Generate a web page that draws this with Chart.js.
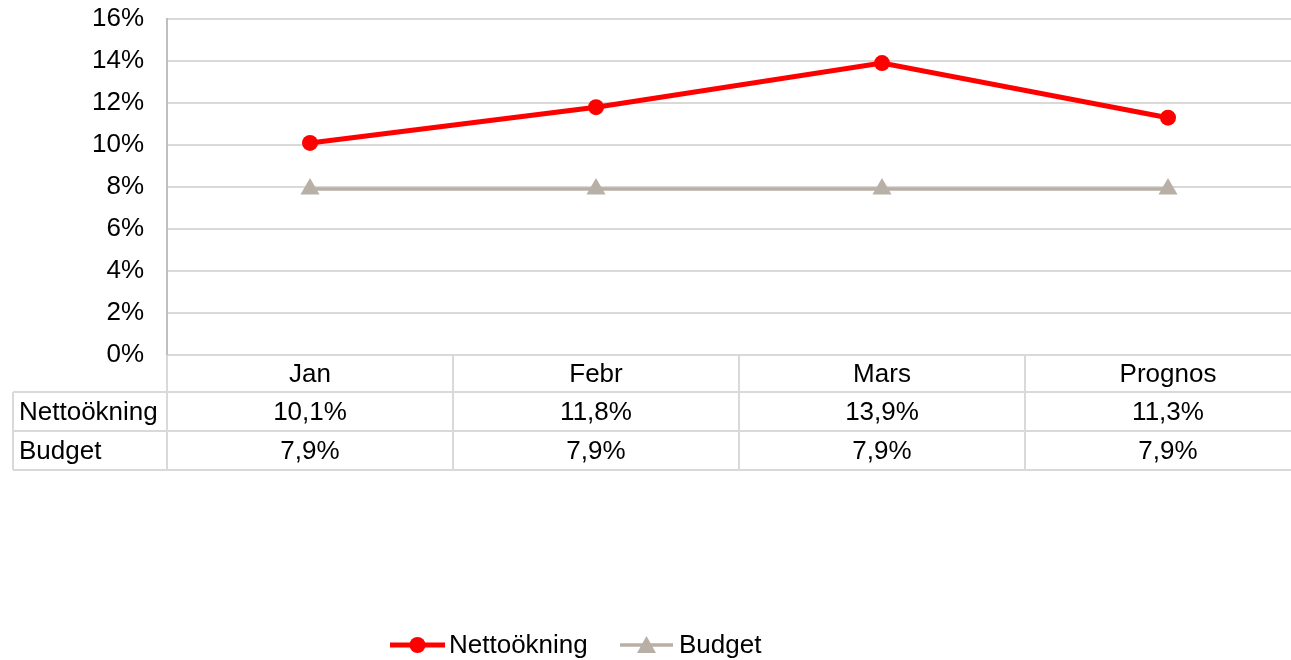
<!DOCTYPE html>
<html>
<head>
<meta charset="utf-8">
<script src="https://cdn.jsdelivr.net/npm/chart.js@4"></script>
<style>
  html, body { margin: 0; padding: 0; background: #fff; overflow: hidden; }
  #chart { display: block; }
</style>
</head>
<body>
<canvas id="chart" width="1320" height="660"></canvas>
<script>
// Data
const categories = ['Jan', 'Febr', 'Mars', 'Prognos'];
const nettoValues = [10.1, 11.8, 13.9, 11.3];
const budgetValues = [7.9, 7.9, 7.9, 7.9];
const seriesNames = ['Nettoökning', 'Budget'];
const yTicks = [0, 2, 4, 6, 8, 10, 12, 14, 16];

const FONT = '"Liberation Sans", Arial, sans-serif';
const RED = '#ff0000';
const GREY = '#b8afa6';
const GRID = '#d9d9d9';

function fmt(v) {
    return v.toFixed(1).replace('.', ',') + '%';
}

// Data table + legend drawn under the plot
const tablePlugin = {
    id: 'dataTable',
    afterDraw(chart) {
        const ctx = chart.ctx;
        const area = chart.chartArea;
        const xs = chart.scales.x;
        const step = (area.right - area.left) / categories.length;
        const rowTop = area.bottom;
        const rows = [rowTop, rowTop + 37, rowTop + 76, rowTop + 115];
        const labelLeft = 13;

        ctx.save();
        ctx.strokeStyle = GRID;
        ctx.lineWidth = 2;
        // horizontal lines
        ctx.beginPath();
        for (let i = 1; i < rows.length; i++) {
            ctx.moveTo(labelLeft, rows[i]);
            ctx.lineTo(area.right, rows[i]);
        }
        // vertical lines
        for (let i = 0; i <= categories.length; i++) {
            const x = area.left + step * i;
            ctx.moveTo(x, rows[0]);
            ctx.lineTo(x, rows[3]);
        }
        ctx.moveTo(labelLeft, rows[1]);
        ctx.lineTo(labelLeft, rows[3]);
        ctx.stroke();

        ctx.fillStyle = '#000';
        ctx.font = '26px ' + FONT;
        ctx.textBaseline = 'middle';
        ctx.textAlign = 'center';
        categories.forEach((c, i) => {
            const x = xs.getPixelForValue(i);
            ctx.fillText(c, x, (rows[0] + rows[1]) / 2 + 1);
            ctx.fillText(fmt(nettoValues[i]), x, (rows[1] + rows[2]) / 2 + 1);
            ctx.fillText(fmt(budgetValues[i]), x, (rows[2] + rows[3]) / 2 + 1);
        });
        ctx.textAlign = 'left';
        ctx.fillText(seriesNames[0], 19, (rows[1] + rows[2]) / 2 + 1);
        ctx.fillText(seriesNames[1], 19, (rows[2] + rows[3]) / 2 + 1);

        // legend
        const ly = 645;
        ctx.lineCap = 'butt';
        ctx.strokeStyle = RED;
        ctx.lineWidth = 5;
        ctx.beginPath();
        ctx.moveTo(390, ly);
        ctx.lineTo(445, ly);
        ctx.stroke();
        ctx.fillStyle = RED;
        ctx.beginPath();
        ctx.arc(417.5, ly, 8, 0, Math.PI * 2);
        ctx.fill();

        ctx.strokeStyle = GREY;
        ctx.lineWidth = 3.5;
        ctx.beginPath();
        ctx.moveTo(620, ly);
        ctx.lineTo(673, ly);
        ctx.stroke();
        ctx.fillStyle = GREY;
        ctx.beginPath();
        ctx.moveTo(646.5, ly - 9);
        ctx.lineTo(656, ly + 8);
        ctx.lineTo(637, ly + 8);
        ctx.closePath();
        ctx.fill();

        ctx.fillStyle = '#000';
        ctx.fillText(seriesNames[0], 449, ly + 1);
        ctx.fillText(seriesNames[1], 679, ly + 1);
        ctx.restore();
    }
};

new Chart(document.getElementById('chart'), {
    type: 'line',
    data: {
        labels: categories,
        datasets: [
            {
                label: seriesNames[1],
                data: budgetValues,
                borderColor: GREY,
                backgroundColor: GREY,
                borderWidth: 3.5,
                pointStyle: 'triangle',
                pointRadius: 11,
                pointBorderWidth: 0,
                tension: 0
            },
            {
                label: seriesNames[0],
                data: nettoValues,
                borderColor: RED,
                backgroundColor: RED,
                borderWidth: 5,
                pointStyle: 'circle',
                pointRadius: 8,
                pointBorderWidth: 0,
                tension: 0
            }
        ]
    },
    options: {
        responsive: false,
        animation: false,
        layout: {
            autoPadding: false,
            padding: { left: 0, top: 19, right: 9, bottom: 305 }
        },
        plugins: {
            legend: { display: false },
            tooltip: { enabled: false }
        },
        scales: {
            x: {
                display: false,
                offset: true
            },
            y: {
                min: 0,
                max: 16,
                afterFit(scale) {
                    scale.width = 167;
                    scale.paddingTop = 0;
                    scale.paddingBottom = 0;
                },
                afterBuildTicks(scale) {
                    scale.ticks = yTicks.map(v => ({ value: v }));
                },
                grid: {
                    color: GRID,
                    lineWidth: 2,
                    drawTicks: false
                },
                border: { color: '#bfbfbf', width: 2 },
                ticks: {
                    padding: 23,
                    color: '#000',
                    font: { family: FONT, size: 26 },
                    callback: v => v + '%'
                }
            }
        }
    },
    plugins: [tablePlugin]
});
</script>
</body>
</html>
